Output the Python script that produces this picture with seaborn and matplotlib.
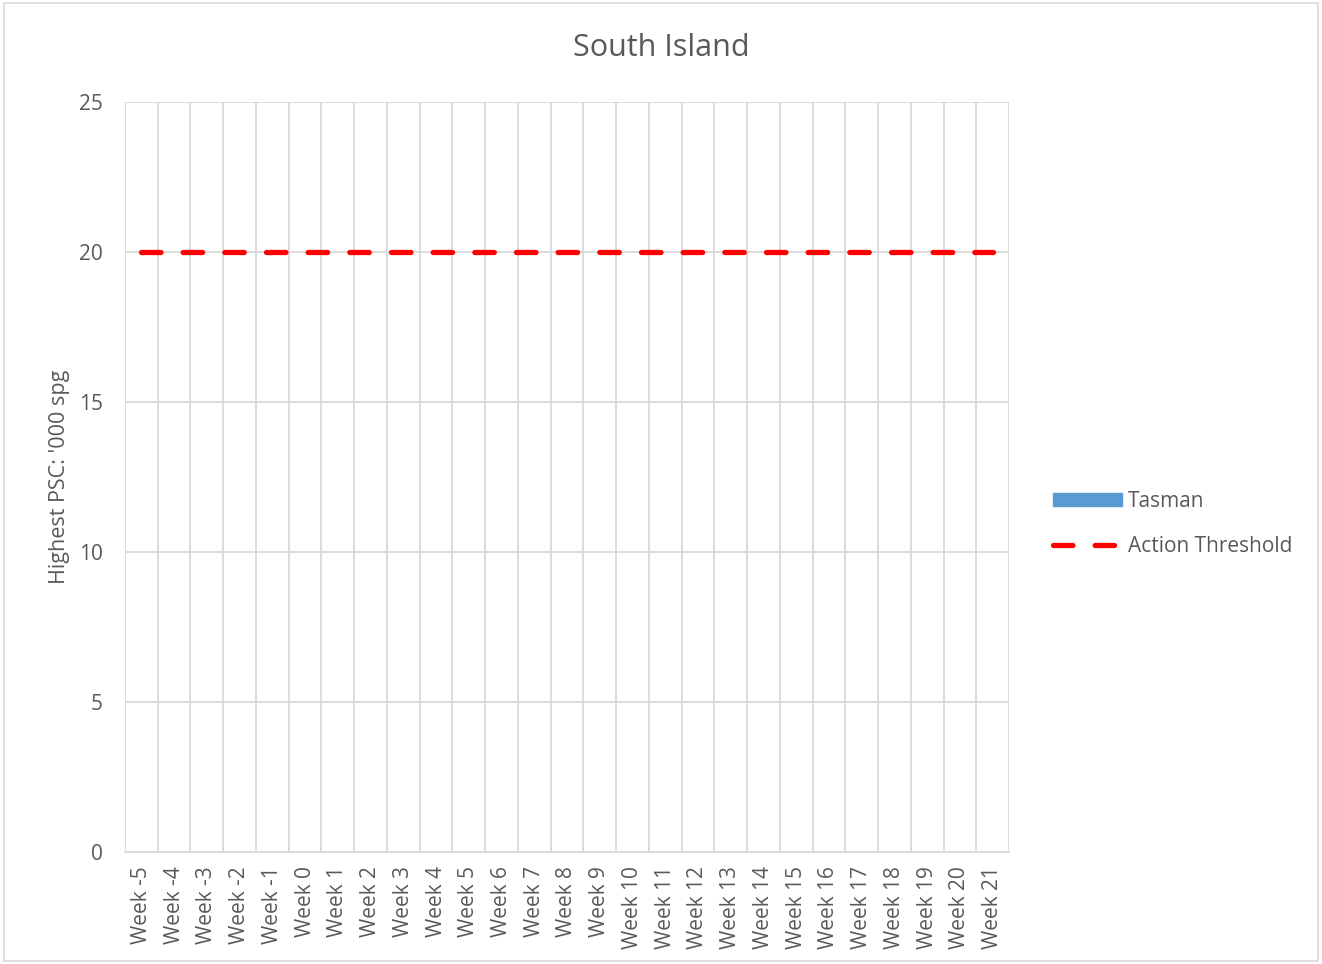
import matplotlib
matplotlib.use("Agg")
import matplotlib.pyplot as plt
import matplotlib.patches as mpatches
from matplotlib.lines import Line2D
from matplotlib.ticker import FixedLocator
import seaborn as sns
import pandas as pd

# Datos
weeks = ["Week " + str(w) for w in range(-5, 22)]
tasman = [0] * len(weeks)
threshold = [20] * len(weeks)
y_ticks = [0, 5, 10, 15, 20, 25]

df = pd.DataFrame({"week": weeks, "Tasman": tasman, "Action Threshold": threshold})

sns.set_theme(style="white")
plt.rcParams["font.family"] = ["Open Sans", "DejaVu Sans"]
plt.rcParams["lines.scale_dashes"] = False

grey = "#595959"
grid_c = "#d9d9d9"

fig = plt.figure(figsize=(13.22, 9.64), dpi=100)
ax = fig.add_axes([125 / 1322, 1 - 852 / 964, 884 / 1322, 750 / 964])

# Barras (todas en cero) y línea de umbral
sns.barplot(data=df, x="week", y="Tasman", color="#5b9bd5", ax=ax, width=0.6)
sns.lineplot(data=df, x="week", y="Action Threshold", color="#ff0000", lw=3.8,
             ax=ax, sort=False)
ax.lines[-1].set_dashes((14, 16))
ax.lines[-1].set_dash_capstyle("round")

ax.set_xlim(-0.5, len(weeks) - 0.5)
ax.set_ylim(0, 25)
ax.set_yticks(y_ticks)
ax.xaxis.set_minor_locator(FixedLocator([i - 0.5 for i in range(len(weeks) + 1)]))
ax.grid(axis="y", which="major", color=grid_c, lw=1.3)
ax.grid(axis="x", which="minor", color=grid_c, lw=1.3)
ax.set_axisbelow(True)
for side in ["top", "right", "left"]:
    ax.spines[side].set_visible(False)
ax.spines["bottom"].set_color(grid_c)
ax.spines["bottom"].set_linewidth(1.3)

ax.tick_params(axis="both", which="both", length=0, colors=grey, labelsize=15)
ax.tick_params(axis="y", pad=16)
ax.tick_params(axis="x", pad=10)
plt.setp(ax.get_xticklabels(), rotation=90)

ax.set_xlabel("")
ax.set_ylabel("Highest PSC: '000 spg", color=grey, fontsize=15.5, labelpad=6)

fig.text(0.5, 1 - 48 / 964, "South Island", ha="center", va="center",
         fontsize=22, color=grey)

handles = [
    mpatches.Patch(color="#5b9bd5"),
    Line2D([0], [0], color="#ff0000", lw=3.8, dashes=(14, 16),
           dash_capstyle="round"),
]
fig.legend(handles, ["Tasman", "Action Threshold"], loc="center left",
           bbox_to_anchor=(1034 / 1322, 1 - 524 / 964), frameon=False,
           fontsize=15, labelcolor=grey, handlelength=3.3, handleheight=0.55,
           labelspacing=1.15, handletextpad=0.3)

fig.patches.append(mpatches.Rectangle((0.003, 0.003), 0.994, 0.994,
                                      transform=fig.transFigure, fill=False,
                                      edgecolor=grid_c, lw=1.2))

fig.savefig("out.png", dpi=100)
